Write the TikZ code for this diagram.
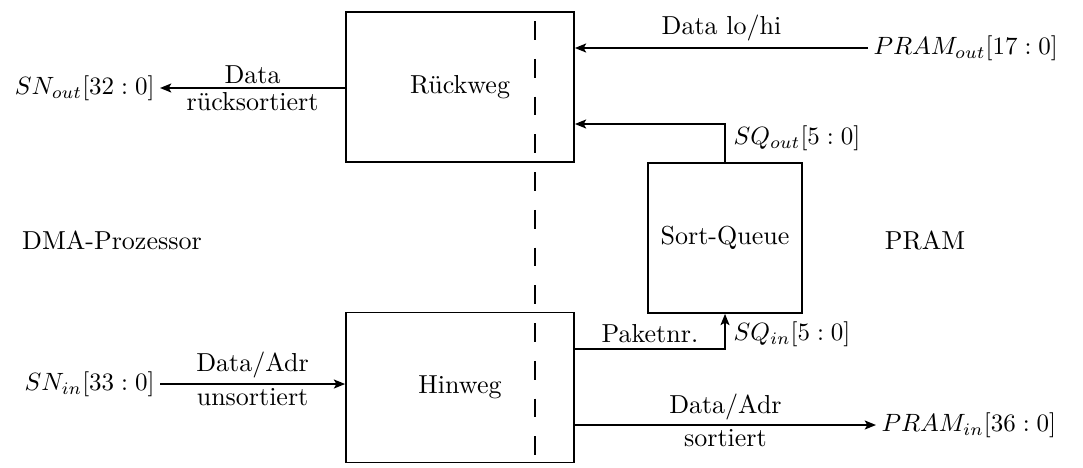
\documentclass[tikz,border=0pt]{standalone}
\usetikzlibrary{arrows.meta}
\begin{document}
\begin{tikzpicture}[x=0.4pt,y=-0.4pt,
  every node/.style={font=\fontsize{10.4}{12.5}\selectfont},
  blk/.style={draw,line width=0.7pt,minimum width=91.2pt,minimum height=60pt,inner sep=0pt},
  port/.style={inner sep=2pt},
  wire/.style={line width=0.7pt},
  arr/.style={wire,-{Stealth[length=4.5pt,width=3.6pt,inset=1pt]}},
  lbl/.style={inner sep=1.5pt}]
\useasboundingbox (0,0) rectangle (1083,467);

% processing blocks
\node[blk] (rw) at (460,87) {Rückweg};
\node[blk] (hw) at (460,387.5) {Hinweg};
\node[blk,minimum width=61.6pt,minimum height=60pt] (sq) at (725,238) {Sort-Queue};

% boundary between the two domains
\coordinate (dtop) at (535,21);
\coordinate (dbot) at (535,455);
\draw[wire,dash pattern=on 7.5pt off 7.6pt] (dtop) -- (dbot);

% domain names
\node (dma) at (112,240) {DMA-Prozessor};
\node (pram) at (925,240) {PRAM};

% external ports
\node[port,anchor=east] (snout) at (160,88) {$SN_{out}[32:0]$};
\node[port,anchor=east] (snin) at (160,384) {$SN_{in}[33:0]$};
\node[port,anchor=west] (pramout) at (868,48) {$PRAM_{out}[17:0]$};
\node[port,anchor=west] (pramin) at (876,425) {$PRAM_{in}[36:0]$};

% return path
\draw[arr] (pramout.west) -- (pramout.west -| rw.east)
  node[midway,above,inner sep=2.5pt] {Data lo/hi};
\draw[arr] (rw.west |- snout.east) -- (snout.east)
  node[midway,above,lbl] {Data} node[midway,below,lbl] {rücksortiert};

% forward path
\draw[arr] (snin.east) -- (snin.east -| hw.west)
  node[midway,above,inner sep=2pt] {Data/Adr} node[midway,below,lbl] {unsortiert};
\draw[arr] (hw.east |- pramin.west) -- (pramin.west)
  node[midway,above,lbl] {Data/Adr} node[midway,below,lbl] {sortiert};

% sort queue loop
\coordinate (sqin) at (725,349);
\coordinate (sqout) at (725,124);
\draw[arr] (hw.east |- sqin) -- node[above,inner sep=2pt] {Paketnr.} (sqin) -- (sq.south);
\draw[arr] (sq.north) -- (sqout) -- (sqout -| rw.east);
\node[anchor=north west,inner sep=2pt] (sqinl) at (728,316) {$SQ_{in}[5:0]$};
\node[anchor=south west,inner sep=2pt] (sqoutl) at (728,156) {$SQ_{out}[5:0]$};
\end{tikzpicture}
\end{document}
